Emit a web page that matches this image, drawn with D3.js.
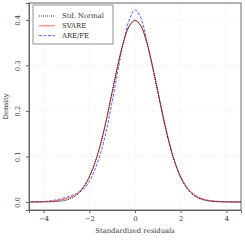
<!DOCTYPE html>
<html>
<head>
<meta charset="utf-8">
<script src="https://cdn.jsdelivr.net/npm/d3@7"></script>
<style>
  body { margin: 0; background: #fff; }
  text { font-family: "DejaVu Serif", "Liberation Serif", serif; }
</style>
</head>
<body>
<svg id="chart"></svg>
<script>
// values
var xs = [-4.75, -4.5, -4.25, -4, -3.75, -3.5, -3.25, -3, -2.75, -2.5, -2.25, -2, -1.75, -1.5, -1.25, -1, -0.75, -0.5, -0.25,
          0, 0.25, 0.5, 0.75, 1, 1.25, 1.5, 1.75, 2, 2.25, 2.5, 2.75, 3, 3.25, 3.5, 3.75, 4, 4.25, 4.5, 4.75];
var stdNormal = [0, 0, 0, 0.0001, 0.0004, 0.0009, 0.0020, 0.0044, 0.0091, 0.0175, 0.0317, 0.0540, 0.0863, 0.1295, 0.1826, 0.2420, 0.3011, 0.3521, 0.3867,
                 0.3989, 0.3867, 0.3521, 0.3011, 0.2420, 0.1826, 0.1295, 0.0863, 0.0540, 0.0317, 0.0175, 0.0091, 0.0044, 0.0020, 0.0009, 0.0004, 0.0001, 0, 0, 0];
var svare = [0, 0.0001, 0.0003, 0.0007, 0.0013, 0.0024, 0.0045, 0.0075, 0.0120, 0.0205, 0.0340, 0.0560, 0.0870, 0.1280, 0.1800, 0.2400, 0.3000, 0.3520, 0.3860,
             0.3985, 0.3880, 0.3540, 0.3030, 0.2440, 0.1840, 0.1300, 0.0870, 0.0555, 0.0340, 0.0200, 0.0112, 0.0060, 0.0032, 0.0017, 0.0009, 0.0005, 0.0002, 0.0001, 0];
var arefe = [0, 0.0001, 0.0004, 0.0010, 0.0022, 0.0042, 0.0070, 0.0105, 0.0145, 0.0200, 0.0285, 0.0450, 0.0720, 0.1080, 0.1580, 0.2200, 0.2880, 0.3520, 0.4000,
             0.4220, 0.4050, 0.3580, 0.3000, 0.2400, 0.1800, 0.1280, 0.0860, 0.0540, 0.0330, 0.0190, 0.0110, 0.0060, 0.0034, 0.0018, 0.0009, 0.0005, 0.0002, 0.0001, 0];
var xTicks = [-4, -2, 0, 2, 4];
var yTicks = [0.0, 0.1, 0.2, 0.3, 0.4];
var seriesNames = ["Std. Normal", "SVARE", "ARE/FE"];

var margin = {top: 3, right: 4, bottom: 35, left: 29},
    width = 245 - margin.left - margin.right,
    height = 245 - margin.top - margin.bottom;

var svg = d3.select("#chart")
    .attr("width", 245)
    .attr("height", 245)
    .append("g")
    .attr("transform", "translate(" + margin.left + "," + margin.top + ")");

var x = d3.scaleLinear().domain([-4.64, 4.64]).range([0, width]);
var y = d3.scaleLinear().domain([-0.0176, 0.437]).range([height, 0]);

svg.append("defs").append("clipPath").attr("id", "clip")
  .append("rect").attr("width", width).attr("height", height);

// grid
svg.selectAll(".gx").data(xTicks).enter().append("line")
  .attr("x1", d => x(d)).attr("x2", d => x(d))
  .attr("y1", 0).attr("y2", height)
  .attr("stroke", "#e2e2e2").attr("stroke-width", 0.7).attr("stroke-dasharray", "1,2");
svg.selectAll(".gy").data(yTicks).enter().append("line")
  .attr("y1", d => y(d)).attr("y2", d => y(d))
  .attr("x1", 0).attr("x2", width)
  .attr("stroke", "#e2e2e2").attr("stroke-width", 0.7).attr("stroke-dasharray", "1,2");

// curves
var line = d3.line()
  .x((d, i) => x(xs[i]))
  .y(d => y(d))
  .curve(d3.curveCatmullRom);

var g = svg.append("g").attr("clip-path", "url(#clip)");
g.append("path").datum(arefe).attr("d", line)
  .attr("fill", "none").attr("stroke", "#4d4dff").attr("stroke-width", 0.9).attr("stroke-dasharray", "3,1.5");
g.append("path").datum(svare).attr("d", line)
  .attr("fill", "none").attr("stroke", "#ff5a5a").attr("stroke-width", 1);
g.append("path").datum(stdNormal).attr("d", line)
  .attr("fill", "none").attr("stroke", "#000").attr("stroke-width", 1).attr("stroke-dasharray", "1,1");

// box
svg.append("rect").attr("width", width).attr("height", height)
  .attr("fill", "none").attr("stroke", "#666").attr("stroke-width", 1);

// axes
var xAxis = svg.append("g")
  .attr("transform", "translate(0," + height + ")")
  .call(d3.axisBottom(x).tickValues(xTicks).tickSize(3).tickPadding(3).tickFormat(d3.format("d")));
var yAxis = svg.append("g")
  .call(d3.axisLeft(y).tickValues(yTicks).tickSize(3).tickPadding(2).tickFormat(d3.format(".1f")));
[xAxis, yAxis].forEach(function(a) {
  a.select(".domain").attr("stroke", "#666");
  a.selectAll(".tick line").attr("stroke", "#666");
  a.selectAll("text").attr("fill", "#333").style("font-size", "6.8px")
    .style("font-family", "'DejaVu Serif', 'Liberation Serif', serif");
});
yAxis.selectAll(".tick text")
  .attr("x", null).attr("dy", null)
  .attr("text-anchor", "middle")
  .attr("transform", "translate(-9,0) rotate(-90)");

svg.append("text")
  .attr("x", width / 2).attr("y", height + 23)
  .attr("text-anchor", "middle").attr("fill", "#333").style("font-size", "6.8px")
  .text("Standardized residuals");
svg.append("text")
  .attr("transform", "translate(-21," + (height / 2) + ") rotate(-90)")
  .attr("text-anchor", "middle").attr("fill", "#333").style("font-size", "6.8px")
  .text("Density");

// legend
var legend = svg.append("g").attr("transform", "translate(4,2)");
legend.append("rect").attr("width", 80).attr("height", 39)
  .attr("fill", "#fff").attr("stroke", "#777").attr("stroke-width", 0.8);
var styles = [
  {stroke: "#000", dash: "1,1", w: 0.8},
  {stroke: "#ff5a5a", dash: null, w: 0.9},
  {stroke: "#4d4dff", dash: "3,1.5", w: 0.9}
];
seriesNames.forEach(function(name, i) {
  var yy = 11 + i * 9.8;
  legend.append("line").attr("x1", 6).attr("x2", 22).attr("y1", yy).attr("y2", yy)
    .attr("stroke", styles[i].stroke).attr("stroke-width", styles[i].w)
    .attr("stroke-dasharray", styles[i].dash);
  legend.append("text").attr("x", 29).attr("y", yy).attr("dy", "0.35em")
    .attr("fill", "#333").style("font-size", "6.8px").text(name);
});
</script>
</body>
</html>
